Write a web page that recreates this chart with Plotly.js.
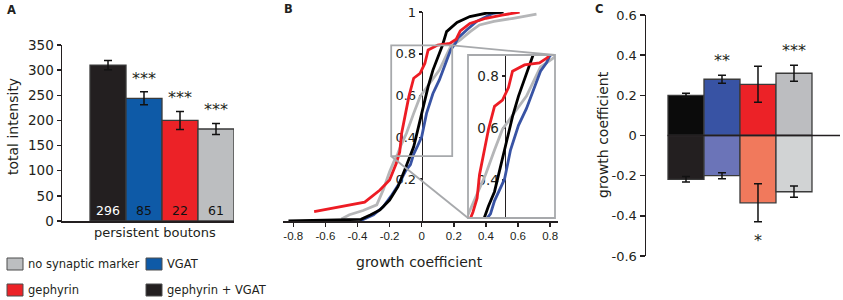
<!DOCTYPE html>
<html>
<head>
<meta charset="utf-8">
<script src="https://cdn.plot.ly/plotly-3.0.1.min.js"></script>
<style>
  html, body { margin: 0; padding: 0; background: #fff; }
  #fig { width: 843px; height: 300px; }
</style>
</head>
<body>
<div id="fig"></div>
<script>
// Three-panel figure: A intensity bars, B cumulative growth curves (+ zoom inset), C growth bars.

// ---- data ----
const GROUPS = ["gephyrin + VGAT", "VGAT", "gephyrin", "no synaptic marker"];

// Panel A
const INTENSITY      = [310, 244, 200, 183];
const INTENSITY_ERR  = [9, 13, 18, 11];
const BOUTON_COUNTS  = ["296", "85", "22", "61"];
const INTENSITY_SIG  = ["", "***", "***", "***"];

// Panel B: cumulative fraction vs growth coefficient
const GRAY_X  = [-0.50, -0.45, -0.365, -0.28, -0.24, -0.20, -0.17, -0.15, -0.13, -0.095, -0.05, -0.01, 0.05, 0.11, 0.15, 0.18, 0.24, 0.30, 0.36, 0.45, 0.57, 0.715];
const GRAY_Y  = [0.01, 0.03, 0.05, 0.077, 0.148, 0.236, 0.29, 0.32, 0.36, 0.42, 0.515, 0.595, 0.659, 0.722, 0.786, 0.834, 0.866, 0.905, 0.938, 0.955, 0.97, 0.99];
const BLUE_X  = [-0.385, -0.30, -0.24, -0.19, -0.14, -0.10, -0.07, -0.05, -0.025, 0.0, 0.03, 0.07, 0.11, 0.15, 0.18, 0.21, 0.225, 0.28, 0.34, 0.445, 0.50];
const BLUE_Y  = [0.0, 0.03, 0.068, 0.12, 0.18, 0.24, 0.27, 0.32, 0.36, 0.403, 0.515, 0.61, 0.675, 0.755, 0.818, 0.85, 0.875, 0.914, 0.954, 0.994, 1.0];
const BLACK_X = [-0.83, -0.378, -0.32, -0.26, -0.20, -0.148, -0.106, -0.08, -0.05, -0.02, 0.01, 0.04, 0.07, 0.10, 0.13, 0.155, 0.22, 0.30, 0.405, 0.51];
const BLACK_Y = [0.0, 0.008, 0.029, 0.053, 0.10, 0.164, 0.244, 0.30, 0.355, 0.45, 0.547, 0.643, 0.722, 0.786, 0.842, 0.906, 0.95, 0.978, 0.995, 1.0];
const RED_X   = [-0.67, -0.355, -0.26, -0.20, -0.158, -0.137, -0.125, -0.10, -0.08, -0.05, -0.01, 0.02, 0.04, 0.10, 0.175, 0.215, 0.24, 0.30, 0.40, 0.50, 0.61];
const RED_Y   = [0.045, 0.09, 0.148, 0.196, 0.276, 0.33, 0.42, 0.515, 0.595, 0.683, 0.707, 0.755, 0.818, 0.842, 0.85, 0.87, 0.91, 0.945, 0.97, 0.985, 1.0];
const B_TICKS = [-0.8, -0.6, -0.4, -0.2, 0, 0.2, 0.4, 0.6, 0.8];
const B_TICK_TEXT = ["-0.8", "-0.6", "-0.4", "-0.2", "0", "0.2", "0.4", "0.6", "0.8"];
const B_YTICKS = [0.2, 0.4, 0.6, 0.8, 1];
const B_YTICK_TEXT = ["0.2", "0.4", "0.6", "0.8", "1"];
const INSET_YTICKS = [0.4, 0.6, 0.8];
const ZOOM_X = [-0.19, 0.19];
const ZOOM_Y = [0.31, 0.84];

// Panel C
const GROWTH_POS      = [0.20, 0.28, 0.255, 0.31];
const GROWTH_POS_ERR  = [0.01, 0.02, 0.09, 0.04];
const GROWTH_NEG      = [-0.218, -0.20, -0.335, -0.28];
const GROWTH_NEG_ERR  = [0.014, 0.015, 0.095, 0.028];
const GROWTH_POS_SIG  = ["", "**", "", "***"];
const GROWTH_NEG_SIG  = ["", "", "*", ""];
const C_TICKS = [-0.6, -0.4, -0.2, 0, 0.2, 0.4, 0.6];
const C_TICK_TEXT = ["-0.6", "-0.4", "-0.2", "0", "0.2", "0.4", "0.6"];

const LEGEND_LABELS = ["no synaptic marker", "VGAT", "gephyrin", "gephyrin + VGAT"];

// ---- styling ----
const COL = {
  black: "#231f20", blue: "#0e5aa7", red: "#ec2227", gray: "#bcbec0",
  posBar: ["#0b0b0b", "#3853a4", "#ec2227", "#bcbdc0"],
  negBar: ["#231f20", "#6b74b8", "#f1795c", "#d1d3d4"],
  curveGray: "#b5b6b8", curveBlue: "#3853a4", curveBlack: "#000000", curveRed: "#ed1c24",
  zoom: "#a7a9ac", ink: "#231f20",
};
const BAR_COLORS = [COL.black, COL.blue, COL.red, COL.gray];
const LEGEND_COLORS = [COL.gray, COL.blue, COL.red, COL.black];
const WIDE = "DejaVu Sans, sans-serif";
const NARROW = "Liberation Sans, Arial, sans-serif";

const W = 843, H = 300;
const px = (x) => x / W;
const py = (y) => 1 - y / H;

const A_X_DOM = [px(62), px(234)],  A_Y_DOM = [py(221), py(45)];
const B_X_DOM = [px(283), px(558)], B_Y_DOM = [py(221), py(12)];
const I_X_DOM = [px(468), px(555)], I_Y_DOM = [py(218), py(55)];
const C_X_DOM = [px(646), px(840)], C_Y_DOM = [py(256), py(15)];

const A_X_RANGE = [-1.278, 3.5],   A_Y_RANGE = [0, 350];
const B_X_RANGE = [-0.864, 0.849], B_Y_RANGE = [0, 1];
const I_X_RANGE = [-0.1825, 0.2525], I_Y_RANGE = [0.254, 0.88];
const C_X_RANGE = [-1.111, 4.278], C_Y_RANGE = [-0.6, 0.6];

// data value -> paper fraction for a given axis
const toPaper = (v, range, dom) => dom[0] + (v - range[0]) / (range[1] - range[0]) * (dom[1] - dom[0]);

// ---- traces ----
const errStyle = { type: "data", color: "#111", thickness: 1.5, width: 4 };
const barLine = { color: "#3a3a3a", width: 1.3 };

const traces = [
  { x: GROUPS, y: INTENSITY, type: "bar", xaxis: "x", yaxis: "y",
    marker: { color: BAR_COLORS, line: barLine },
    error_y: { ...errStyle, array: INTENSITY_ERR },
    text: BOUTON_COUNTS, textposition: "inside", insidetextanchor: "start",
    textangle: 0, textfont: { family: WIDE, size: 12.5, color: ["#ffffff", "#111", "#111", "#111"] },
    hoverinfo: "skip" },
];

const curves = [
  [GRAY_X, GRAY_Y, COL.curveGray],
  [BLUE_X, BLUE_Y, COL.curveBlue],
  [BLACK_X, BLACK_Y, COL.curveBlack],
  [RED_X, RED_Y, COL.curveRed],
];
for (const [xs, ys, c] of curves) {
  traces.push({ x: xs, y: ys, type: "scatter", mode: "lines", xaxis: "x2", yaxis: "y2",
    line: { color: c, width: 2.8 }, hoverinfo: "skip" });
}
for (const [xs, ys, c] of curves) {
  traces.push({ x: xs, y: ys, type: "scatter", mode: "lines", xaxis: "x3", yaxis: "y3",
    line: { color: c, width: 2.8 }, hoverinfo: "skip" });
}

traces.push(
  { x: GROUPS, y: GROWTH_POS, type: "bar", xaxis: "x4", yaxis: "y4",
    marker: { color: COL.posBar, line: barLine },
    error_y: { ...errStyle, array: GROWTH_POS_ERR }, hoverinfo: "skip" },
  { x: GROUPS, y: GROWTH_NEG, type: "bar", xaxis: "x4", yaxis: "y4",
    marker: { color: COL.negBar, line: barLine },
    error_y: { ...errStyle, array: GROWTH_NEG_ERR }, hoverinfo: "skip" },
);

// ---- annotations ----
const ann = [];
const label = (text, x, y, size, extra) => ann.push({ text, x, y, xref: "paper", yref: "paper",
  xanchor: "center", yanchor: "middle", showarrow: false,
  font: { family: WIDE, size, color: COL.ink }, ...extra });

label("<b>A</b>", px(11), py(10), 11.5);
label("<b>B</b>", px(288), py(9), 11.5);
label("<b>C</b>", px(599), py(9), 11.5);

label("total intensity", px(13), py(127), 14, { textangle: -90 });
label("persistent boutons", px(155), py(233), 13);
label("growth coefficient", px(419), py(262), 14);
label("growth coefficient", px(603), py(135), 14, { textangle: -90 });

const sigFont = { family: WIDE, size: 16, color: COL.ink };
INTENSITY_SIG.forEach((s, i) => {
  if (!s) return;
  ann.push({ text: s, x: GROUPS[i], y: INTENSITY[i] + INTENSITY_ERR[i], xref: "x", yref: "y",
    showarrow: false, yanchor: "bottom", yshift: 2, font: sigFont });
});
GROWTH_POS_SIG.forEach((s, i) => {
  if (!s) return;
  ann.push({ text: s, x: GROUPS[i], y: GROWTH_POS[i] + GROWTH_POS_ERR[i], xref: "x4", yref: "y4",
    showarrow: false, yanchor: "bottom", yshift: 3, font: sigFont });
});
GROWTH_NEG_SIG.forEach((s, i) => {
  if (!s) return;
  ann.push({ text: s, x: GROUPS[i], y: GROWTH_NEG[i] - GROWTH_NEG_ERR[i], xref: "x4", yref: "y4",
    showarrow: false, yanchor: "top", yshift: -7, font: sigFont });
});

// legend (2 x 2 grid below panel A)
const shapes = [];
const LEG_COLS = [7, 146], LEG_ROWS = [258, 284];
LEGEND_LABELS.forEach((t, i) => {
  const x0 = LEG_COLS[i % 2], y0 = LEG_ROWS[Math.floor(i / 2)];
  shapes.push({ type: "rect", xref: "paper", yref: "paper",
    x0: px(x0), x1: px(x0 + 16), y0: py(y0), y1: py(y0 + 12),
    fillcolor: LEGEND_COLORS[i], line: { color: "#4d4d4d", width: 1 } });
  label(t, px(x0 + 19), py(y0 + 6), 11.5, { xanchor: "left" });
});

// zoom box, inset frame and connectors
shapes.push(
  { type: "rect", xref: "x2", yref: "y2", x0: ZOOM_X[0], x1: ZOOM_X[1], y0: ZOOM_Y[0], y1: ZOOM_Y[1],
    line: { color: COL.zoom, width: 1.8 } },
  { type: "rect", xref: "x3 domain", yref: "y3 domain", x0: 0, x1: 1, y0: 0, y1: 1,
    line: { color: COL.zoom, width: 1.8 } },
  { type: "line", xref: "paper", yref: "paper",
    x0: toPaper(ZOOM_X[1], B_X_RANGE, B_X_DOM), y0: toPaper(ZOOM_Y[1], B_Y_RANGE, B_Y_DOM),
    x1: I_X_DOM[1], y1: I_Y_DOM[1], line: { color: COL.zoom, width: 1.8 } },
  { type: "line", xref: "paper", yref: "paper",
    x0: toPaper(ZOOM_X[0], B_X_RANGE, B_X_DOM), y0: toPaper(ZOOM_Y[0], B_Y_RANGE, B_Y_DOM),
    x1: I_X_DOM[0], y1: I_Y_DOM[0], line: { color: COL.zoom, width: 1.8 } },
  // panel C baseline
  { type: "line", xref: "x4", yref: "y4", x0: -0.5, x1: C_X_RANGE[1], y0: 0, y1: 0,
    line: { color: COL.ink, width: 1.5 } },
);

// ---- layout ----
const axLine = { showline: true, linecolor: COL.ink, linewidth: 1.5, showgrid: false, zeroline: false,
  ticks: "outside", tickcolor: COL.ink, tickwidth: 1.5 };
const tickWide = (size) => ({ tickfont: { family: WIDE, size, color: COL.ink } });

const layout = {
  width: W, height: H,
  margin: { l: 0, r: 0, t: 0, b: 0 },
  paper_bgcolor: "#fff", plot_bgcolor: "rgba(0,0,0,0)",
  font: { family: WIDE, color: COL.ink, size: 13 },
  showlegend: false,
  barmode: "overlay", bargap: 0,

  xaxis:  { ...axLine, domain: A_X_DOM, range: A_X_RANGE, anchor: "y", ticks: "", showticklabels: false },
  yaxis:  { ...axLine, ...tickWide(13.5), domain: A_Y_DOM, range: A_Y_RANGE, anchor: "x", dtick: 50, ticklen: 4 },

  xaxis2: { ...axLine, domain: B_X_DOM, range: B_X_RANGE, anchor: "y2", ticklen: 4,
            tickfont: { family: NARROW, size: 11.5, color: COL.ink },
            tickvals: B_TICKS, ticktext: B_TICK_TEXT },
  yaxis2: { ...axLine, ...tickWide(13), domain: B_Y_DOM, range: B_Y_RANGE, anchor: "free",
            position: toPaper(0, B_X_RANGE, B_X_DOM), ticklen: 3, layer: "below traces",
            tickvals: B_YTICKS, ticktext: B_YTICK_TEXT },

  xaxis3: { domain: I_X_DOM, range: I_X_RANGE, anchor: "y3", visible: false },
  yaxis3: { ...axLine, ...tickWide(13.5), domain: I_Y_DOM, range: I_Y_RANGE, anchor: "free",
            position: toPaper(0, I_X_RANGE, I_X_DOM), ticklen: 3, linewidth: 1.2, layer: "below traces",
            tickvals: INSET_YTICKS, tickformat: ".1f" },

  xaxis4: { domain: C_X_DOM, range: C_X_RANGE, anchor: "y4", visible: false },
  yaxis4: { ...axLine, ...tickWide(13), domain: C_Y_DOM, range: C_Y_RANGE, anchor: "x4", ticklen: 5,
            tickvals: C_TICKS, ticktext: C_TICK_TEXT },

  shapes, annotations: ann,
};

Plotly.newPlot("fig", traces, layout, { displayModeBar: false, staticPlot: true });
</script>
</body>
</html>
